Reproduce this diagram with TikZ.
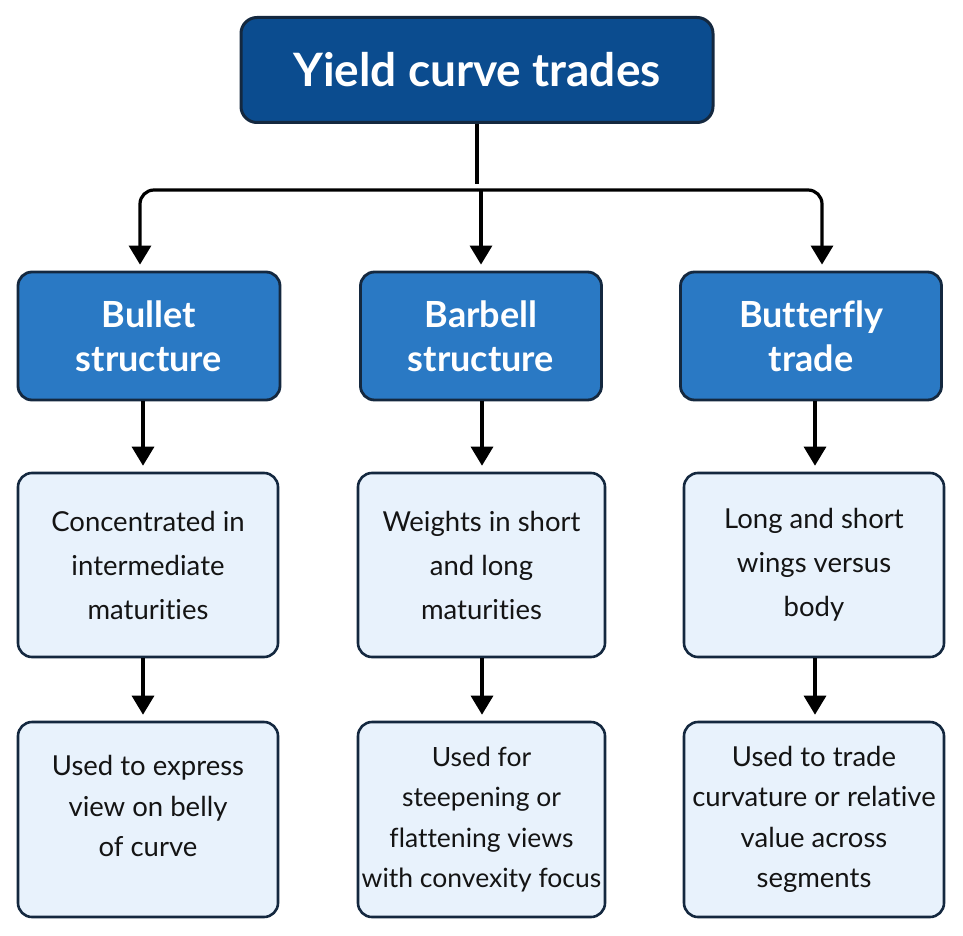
\documentclass[tikz,border=0pt]{standalone}
\usepackage{fontspec}
\setmainfont{Lato}[Ligatures=NoCommon]
\usetikzlibrary{shapes,arrows.meta,positioning}
\definecolor{titleblue}{HTML}{0B4C8F}
\definecolor{midblue}{HTML}{2A79C4}
\definecolor{paleblue}{HTML}{E8F2FC}
\definecolor{edgenavy}{HTML}{14283F}
\definecolor{inkdark}{HTML}{141414}
\tikzstyle{title} = [draw=edgenavy, line width=3pt, fill=titleblue, text=white, rounded corners=16pt, font=\fontsize{46}{50}\selectfont\bfseries, minimum width=472pt, minimum height=105pt]
\tikzstyle{kind} = [draw=edgenavy, line width=2.8pt, fill=midblue, text=white, rounded corners=14pt, align=center, font=\fontsize{36}{44}\selectfont\bfseries, minimum height=128pt]
\tikzstyle{note} = [draw=edgenavy, line width=2.6pt, fill=paleblue, text=inkdark, rounded corners=14pt, align=center, font=\fontsize{27.5}{44}\selectfont, minimum height=184pt]
\tikzstyle{use} = [note, inner xsep=0pt, font=\fontsize{27.5}{40.5}\selectfont, minimum height=195pt]
\tikzset{
  line/.style ={draw, line width=3.2pt, -{Triangle[width=22pt,length=19pt]}, shorten >=6pt}
}
\begin{document}
\begin{tikzpicture}[x=1pt,y=-1pt]
  \useasboundingbox (0,0) rectangle (963,936);
  \node[title] (trades) at (477,70) {Yield curve trades};

  \node[kind, minimum width=262pt] (bullet) at (149,336) {Bullet\\structure};
  \node[kind, minimum width=241pt] (barbell) at (481,336) {Barbell\\structure};
  \node[kind, minimum width=261pt] (butterfly) at (811,336) {Butterfly\\trade};

  \node[note, minimum width=260pt] (bulletnote) at (148,565) {Concentrated in\\intermediate\\maturities};
  \node[note, minimum width=247pt] (barbellnote) at (481.5,565) {Weights in short\\and long\\maturities};
  \node[note, minimum width=260pt] (butterflynote) at (814,565) {Long and short\\wings versus\\body};

  \node[use, minimum width=260pt, text depth=27pt] (bulletuse) at (148,819.5) {Used to express\\view on belly\\of curve};
  \node[use, minimum width=247pt, font=\fontsize{26.5}{40.5}\selectfont] (barbelluse) at (481.5,819.5) {Used for\\steepening or\\flattening views\\with convexity focus};
  \node[use, minimum width=260pt] (butterflyuse) at (814,819.5) {Used to trade\\curvature or relative\\value across\\segments};

  \coordinate (split) at (477,190);

  \begin{scope}[every path/.style=line]
    \draw[-] (trades.south) -- (split);
    \draw[rounded corners=14pt] (split) -| (bullet.north -| 140,0);
    \draw (split -| barbell.north) -- (barbell.north);
    \draw[rounded corners=14pt] (split) -| (butterfly.north -| 822,0);
    \draw (bullet.south -| 143,0) -- (bulletnote.north -| 143,0);
    \draw (barbell.south -| 482,0) -- (barbellnote.north -| 482,0);
    \draw (butterfly.south -| 815,0) -- (butterflynote.north -| 815,0);
    \draw (bulletnote.south -| 143,0) -- (bulletuse.north -| 143,0);
    \draw (barbellnote.south -| 482,0) -- (barbelluse.north -| 482,0);
    \draw (butterflynote.south -| 815,0) -- (butterflyuse.north -| 815,0);
  \end{scope}
\end{tikzpicture}
\end{document}
